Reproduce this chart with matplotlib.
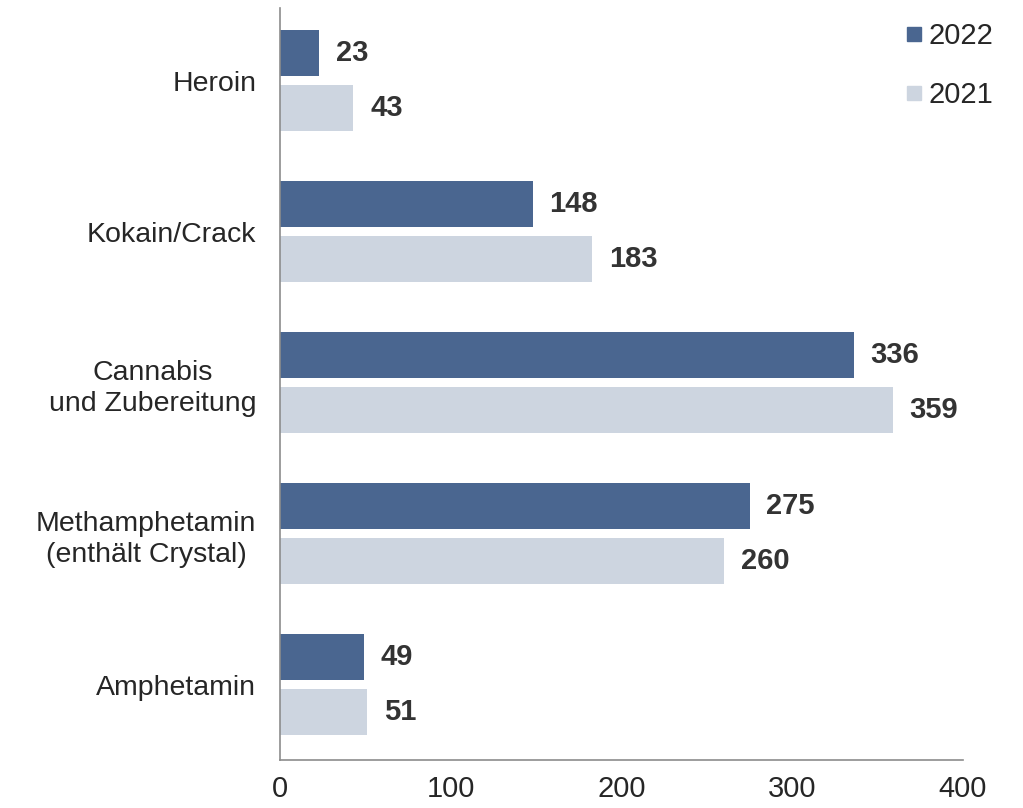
import matplotlib.pyplot as plt
import numpy as np
from matplotlib.lines import Line2D

plt.rcParams["font.family"] = ["Liberation Sans", "DejaVu Sans"]

categories = ["Heroin", "Kokain/Crack", "Cannabis\nund Zubereitung",
              "Methamphetamin\n(enthält Crystal)", "Amphetamin"]
values_2022 = [23, 148, 336, 275, 49]
values_2021 = [43, 183, 359, 260, 51]

c2022 = "#4A6690"
c2021 = "#CDD5E0"
text_col = "#333333"

fig = plt.figure(figsize=(10.23, 8.08), dpi=100)
ax = fig.add_axes([0.2737, 0.0594, 0.6676, 0.9306])

y = np.arange(len(categories))
h = 0.31
off = 0.182
ax.barh(y - off, values_2022, height=h, color=c2022)
ax.barh(y + off, values_2021, height=h, color=c2021)

for yi, v in zip(y - off, values_2022):
    ax.annotate(str(v), (v, yi), xytext=(12, 0), textcoords="offset points",
                va="center", ha="left", fontsize=21, fontweight="bold", color=text_col)
for yi, v in zip(y + off, values_2021):
    ax.annotate(str(v), (v, yi), xytext=(12, 0), textcoords="offset points",
                va="center", ha="left", fontsize=21, fontweight="bold", color=text_col)

ax.set_xlim(0, 400)
ax.set_ylim(4.5, -0.48)
ax.set_xticks([0, 100, 200, 300, 400])
ax.set_yticks(y)
ax.set_yticklabels(categories, fontsize=20.5, color="#262626", ha="right",
                   multialignment="center", linespacing=1.25)
ax.tick_params(axis="y", length=0, pad=17)
ax.tick_params(axis="x", length=0, pad=10.5, labelsize=21, labelcolor="#262626")

for s in ["top", "right"]:
    ax.spines[s].set_visible(False)
for s in ["left", "bottom"]:
    ax.spines[s].set_color("#8C8C8C")
    ax.spines[s].set_linewidth(1.2)

handles = [Line2D([], [], marker="s", linestyle="", markersize=10, color=c2022),
           Line2D([], [], marker="s", linestyle="", markersize=10, color=c2021)]
ax.legend(handles, ["2022", "2021"], loc="upper right", bbox_to_anchor=(1.083, 1.016),
          frameon=False, fontsize=21, handletextpad=0.05, labelspacing=1.05,
          labelcolor="#262626", handlelength=0.9)

fig.savefig("out.png", dpi=100)
